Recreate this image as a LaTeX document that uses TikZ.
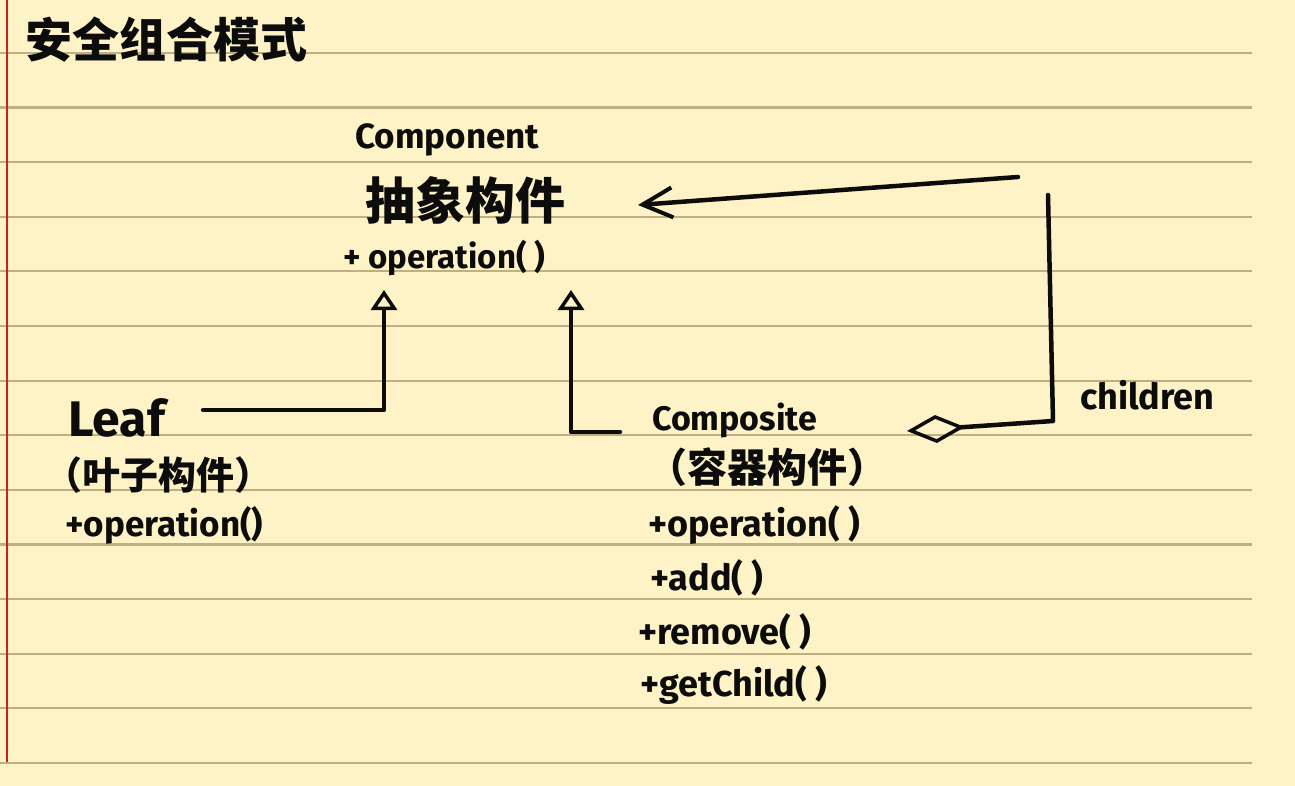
\documentclass[tikz,border=0pt]{standalone}
\usepackage{fontspec}
\setmainfont{Fira Sans}
\newfontfamily\cjk{Noto Sans CJK SC}
\usetikzlibrary{arrows.meta}
\definecolor{padyellow}{RGB}{253,243,198}
\definecolor{padrule}{RGB}{190,176,128}
\definecolor{padmargin}{RGB}{204,32,32}
\definecolor{ink}{RGB}{12,12,12}
\newcommand\handsz[1]{\fontsize{#1}{#1}\selectfont\bfseries}

\tikzset{
  txt/.style={anchor=west, inner sep=0pt, text=ink},
  link/.style={draw=ink, line width=4.5pt, line cap=round, line join=round},
  generalize/.style={link, -{Triangle[open, length=20pt, width=26pt, line width=3.5pt]}},
  aggregate/.style={link, {Diamond[open, length=58pt, width=28pt, line width=3.5pt]}-},
  assoc/.style={link, -{Straight Barb[length=30pt, width=30pt, line width=4pt]}},
}

\begin{document}
\begin{tikzpicture}[x=1pt, y=-1pt]
  \useasboundingbox (0,0) rectangle (1295,786);
  \fill[padyellow] (0,0) rectangle (1295,786);

  % ruled lines and margin
  \foreach \k in {0,...,13}
    \draw[padrule, line width=2.2pt] (0,53+54.6*\k) -- (1252,53+54.6*\k);
  \draw[padmargin, line width=2.5pt] (7,0) -- (7,762);

  % title
  \node[txt, font=\cjk\handsz{47}] (title) at (25,40) {安全组合模式};

  % Component
  \node[txt, font=\handsz{35}] (compname) at (355,140) {Component};
  \node[txt, font=\cjk\handsz{50}] (compcn) at (365,200) {抽象构件};
  \node[txt, font=\handsz{33}] (compop) at (343,258) {+ operation( )};

  % Leaf
  \node[txt, font=\handsz{50}] (leafname) at (68,418) {Leaf};
  \node[txt, font=\cjk\handsz{38}] (leafcn) at (44,475) {（叶子构件）};
  \node[txt, font=\handsz{35}] (leafop) at (65,525) {+operation()};

  % Composite
  \node[txt, font=\handsz{34}] (compsname) at (652,420) {Composite};
  \node[txt, font=\cjk\handsz{40}] (compscn) at (647,467) {（容器构件）};
  \node[txt, font=\handsz{36}] (compsop) at (648,525) {+operation( )};
  \node[txt, font=\handsz{36}] (compsadd) at (650,578) {+add( )};
  \node[txt, font=\handsz{36}] (compsrm) at (638,632) {+remove( )};
  \node[txt, font=\handsz{36}] (compsget) at (640,685) {+getChild( )};

  \node[txt, font=\handsz{36}] (childlbl) at (1080,395) {children};

  % connectors
  \coordinate (tipL) at (384,290);
  \coordinate (tipR) at (571,290);
  \coordinate (tipC) at (638,205);
  \coordinate (aggL) at (907,431);
  \coordinate (cornerB) at (1053,421);
  \coordinate (cornerT) at (1048,195);
  \coordinate (topR) at (1018,177);

  \draw[generalize] ([xshift=38pt, yshift=8pt]leafname.east) -| (tipL);
  \draw[generalize] ([xshift=-32pt, yshift=-12pt]compsname.west) -| (tipR);
  \draw[aggregate] (aggL) -- (cornerB) -- (cornerT);
  \draw[assoc] (topR) -- (tipC);
\end{tikzpicture}
\end{document}
